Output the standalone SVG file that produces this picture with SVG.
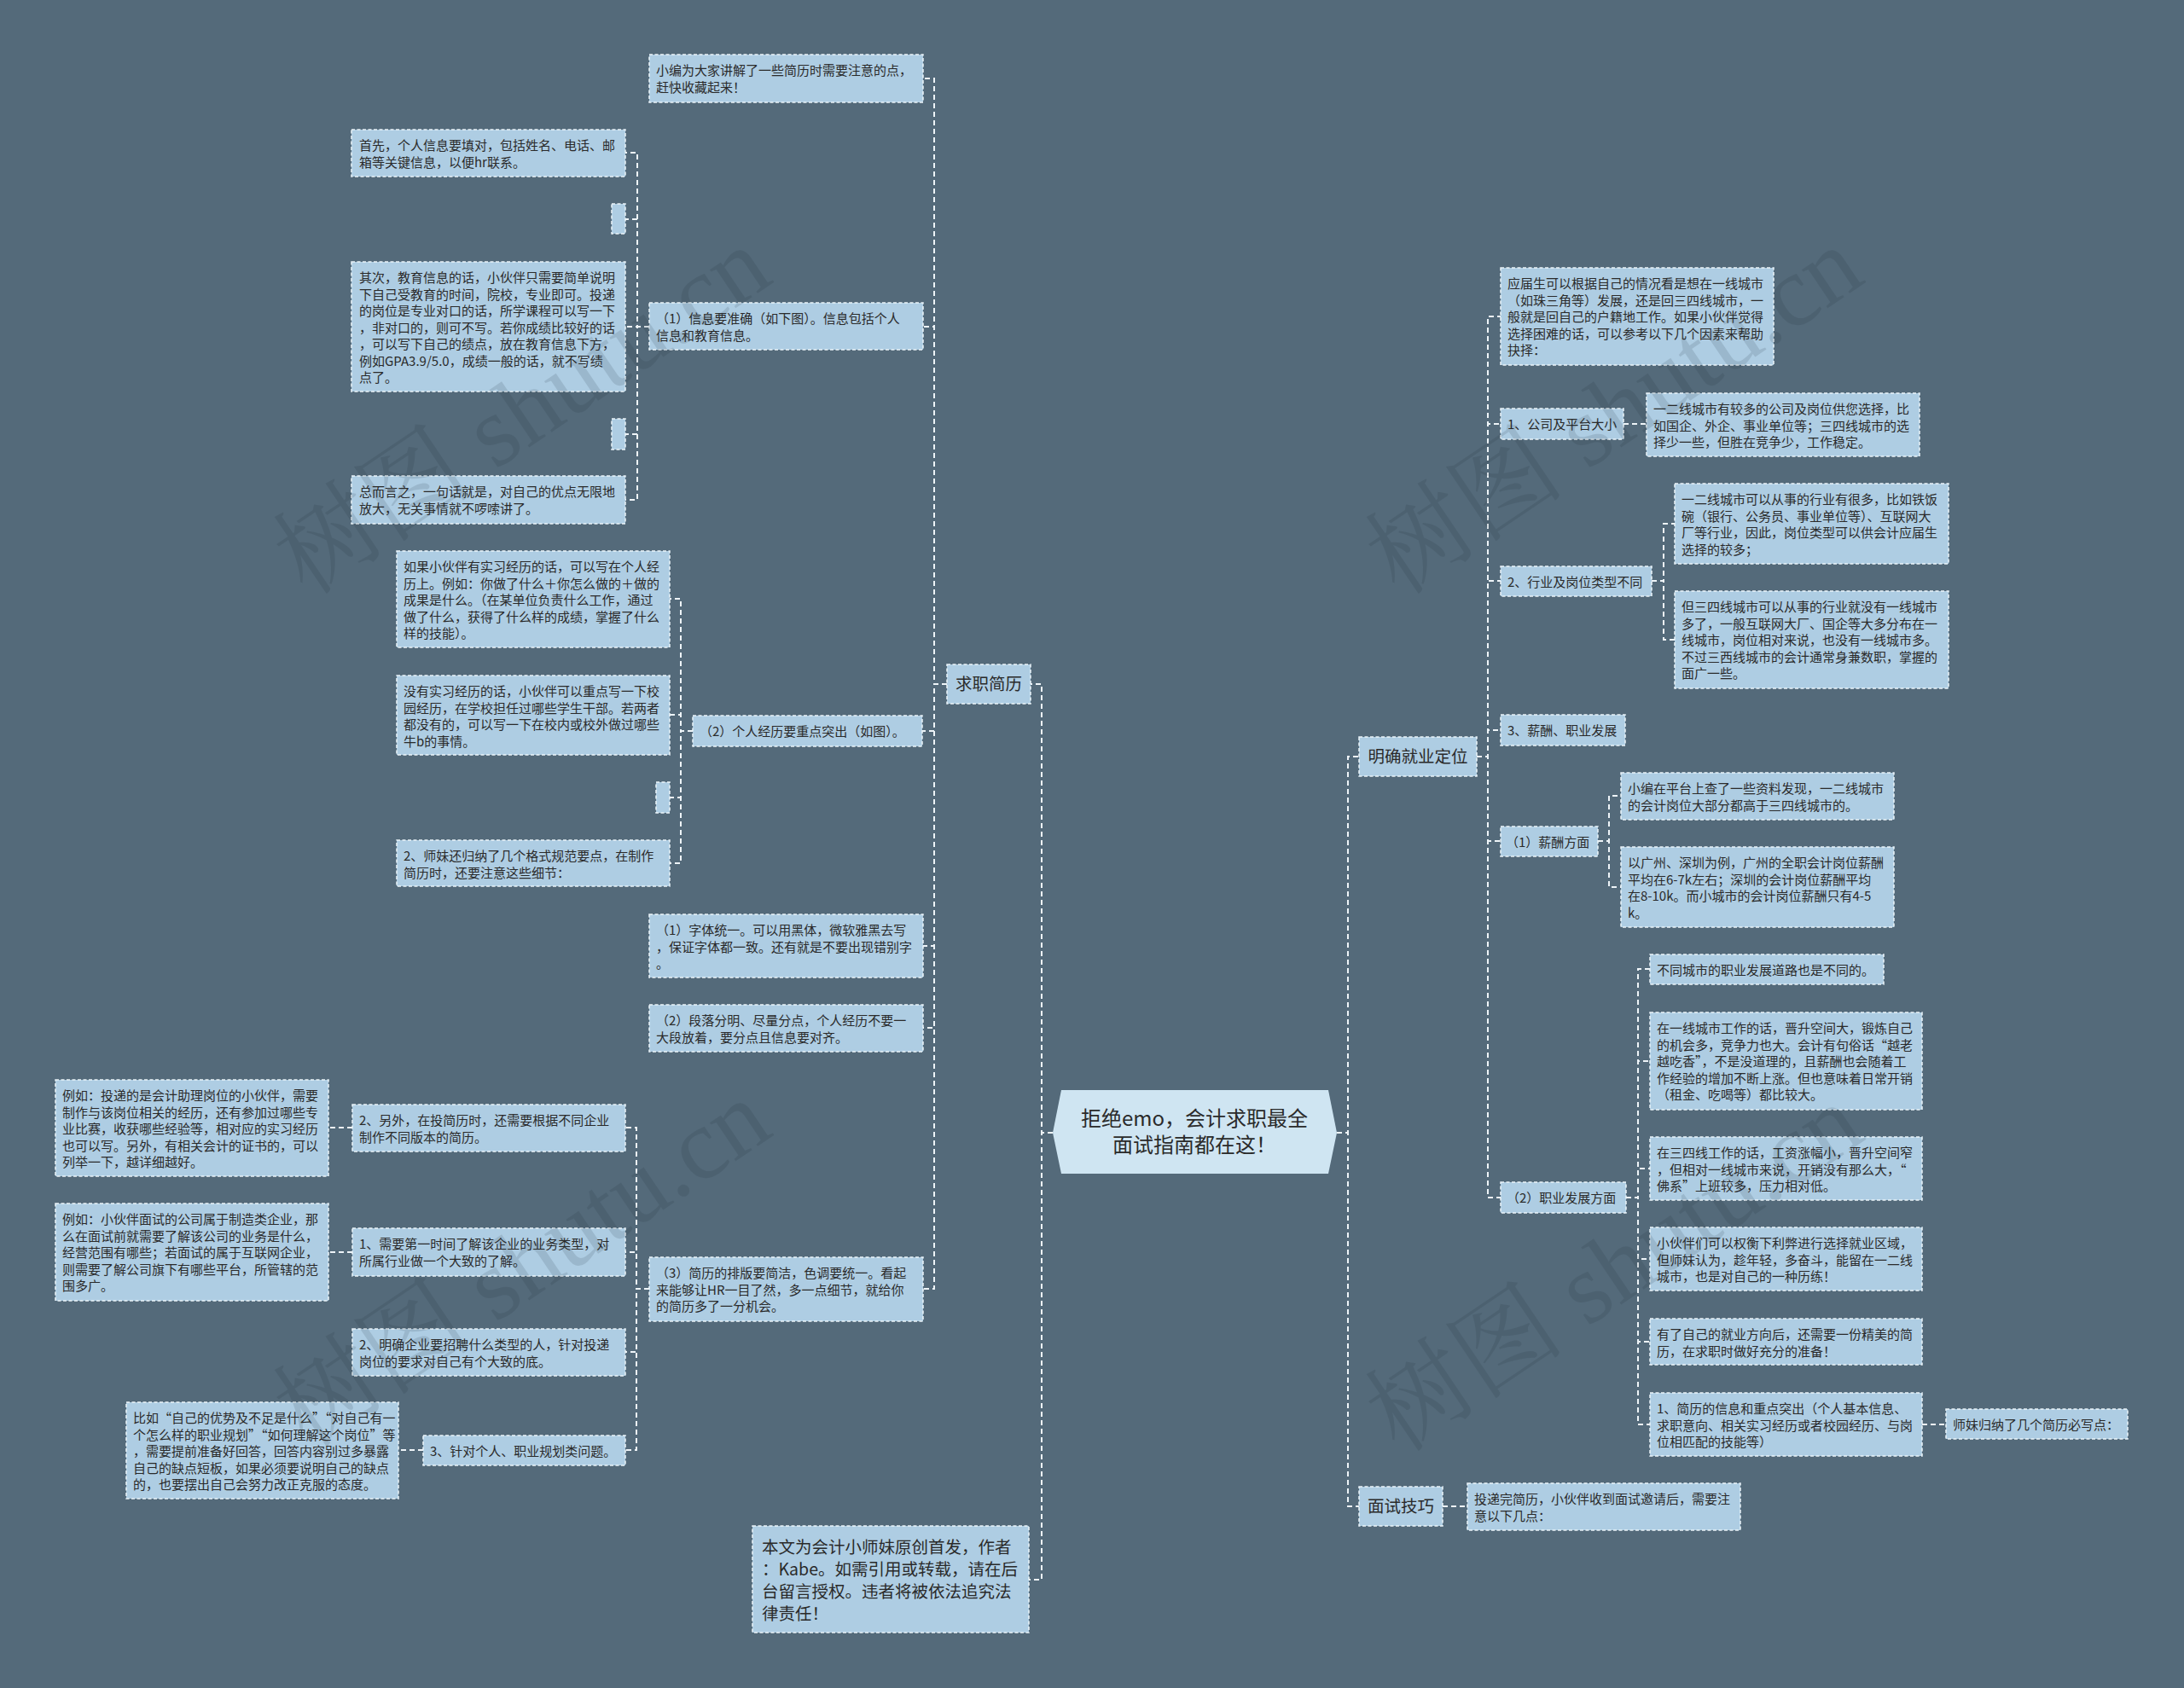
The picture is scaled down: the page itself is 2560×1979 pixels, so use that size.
<svg xmlns="http://www.w3.org/2000/svg" width="2560" height="1979" viewBox="0 0 2560 1979">
<style>
.n{fill:#aecde3;stroke:#eaf3f9;stroke-width:1.5;stroke-dasharray:4 2.5}
.t{font-family:"Noto Sans CJK SC","Liberation Sans",sans-serif;font-size:15px;fill:#2a2a2a}
.b{font-size:19.5px}
.c{fill:none;stroke:#eef4f8;stroke-width:2;stroke-dasharray:6 4}
.wm{font-family:"Liberation Serif","Noto Serif CJK SC","Noto Sans CJK SC",serif;font-size:118px;fill:#1c2a36;opacity:.13}
</style>
<rect width="2560" height="1979" fill="#546a7a"/>
<g id="connectors">
<path class="c" d="M1234,1328H1221V802H1208"/>
<path class="c" d="M1234,1328H1221V1852H1206"/>
<path class="c" d="M1567,1328H1580V887H1593"/>
<path class="c" d="M1567,1328H1580V1766H1593"/>
<path class="c" d="M1110,802H1095V92H1082"/>
<path class="c" d="M1110,802H1095V383H1082"/>
<path class="c" d="M1110,802H1095V857H1081"/>
<path class="c" d="M1110,802H1095V1109H1082"/>
<path class="c" d="M1110,802H1095V1205H1082"/>
<path class="c" d="M1110,802H1095V1511H1082"/>
<path class="c" d="M761,383H747V179H733"/>
<path class="c" d="M761,383H747V257H733"/>
<path class="c" d="M761,383H733"/>
<path class="c" d="M761,383H747V509H733"/>
<path class="c" d="M761,383H747V586H733"/>
<path class="c" d="M812,857H798V702H785"/>
<path class="c" d="M812,857H798V838H785"/>
<path class="c" d="M812,857H798V935H785"/>
<path class="c" d="M812,857H798V1012H785"/>
<path class="c" d="M761,1511H746V1322H733"/>
<path class="c" d="M761,1511H746V1468H733"/>
<path class="c" d="M761,1511H746V1585H733"/>
<path class="c" d="M761,1511H746V1700H733"/>
<path class="c" d="M413,1322H385"/>
<path class="c" d="M413,1468H385"/>
<path class="c" d="M496,1700H467"/>
<path class="c" d="M1731,887H1744V371H1759"/>
<path class="c" d="M1731,887H1744V497H1759"/>
<path class="c" d="M1731,887H1744V681H1759"/>
<path class="c" d="M1731,887H1744V856H1759"/>
<path class="c" d="M1731,887H1744V986H1759"/>
<path class="c" d="M1731,887H1744V1404H1759"/>
<path class="c" d="M1903,497H1930"/>
<path class="c" d="M1936,681H1950V614H1963"/>
<path class="c" d="M1936,681H1950V750H1963"/>
<path class="c" d="M1873,986H1886V933H1900"/>
<path class="c" d="M1873,986H1886V1040H1900"/>
<path class="c" d="M1906,1404H1920V1136H1934"/>
<path class="c" d="M1906,1404H1920V1244H1934"/>
<path class="c" d="M1906,1404H1920V1370H1934"/>
<path class="c" d="M1906,1404H1920V1476H1934"/>
<path class="c" d="M1906,1404H1920V1573H1934"/>
<path class="c" d="M1906,1404H1920V1670H1934"/>
<path class="c" d="M2253,1670H2281"/>
<path class="c" d="M1691,1766H1720"/>
</g>
<g id="center">
<polygon points="1244,1278 1557,1278 1567,1328 1557,1376 1244,1376 1234,1328" fill="#cfe5f2"/>
<text class="t" style="font-size:24px" text-anchor="middle"><tspan x="1400" y="1320">拒绝emo，会计求职最全</tspan><tspan x="1400" y="1351">面试指南都在这！</tspan></text>
</g>
<g id="n-qzjl"><rect class="n" x="1110" y="779" width="98" height="46"/><text class="t b" x="1159" y="809" text-anchor="middle">求职简历</text></g>
<g id="n-xiaobian"><rect class="n" x="761" y="64" width="321" height="56"/><text class="t"><tspan x="769" y="88">小编为大家讲解了一些简历时需要注意的点，</tspan><tspan x="769" y="107.5">赶快收藏起来！</tspan></text></g>
<g id="n-xinxi"><rect class="n" x="761" y="355" width="321" height="55"/><text class="t"><tspan x="769" y="379">（1）信息要准确（如下图）。信息包括个人</tspan><tspan x="769" y="398.5">信息和教育信息。</tspan></text></g>
<g id="n-shouxian"><rect class="n" x="412" y="152" width="321" height="55"/><text class="t"><tspan x="421" y="176">首先，个人信息要填对，包括姓名、电话、邮</tspan><tspan x="421" y="195.5">箱等关键信息，以便hr联系。</tspan></text></g>
<g id="n-empty1"><rect class="n" x="717" y="239" width="16" height="35"/></g>
<g id="n-qici"><rect class="n" x="412" y="307" width="321" height="152"/><text class="t"><tspan x="421" y="331">其次，教育信息的话，小伙伴只需要简单说明</tspan><tspan x="421" y="350.5">下自己受教育的时间，院校，专业即可。投递</tspan><tspan x="421" y="370">的岗位是专业对口的话，所学课程可以写一下</tspan><tspan x="421" y="389.5">，非对口的，则可不写。若你成绩比较好的话</tspan><tspan x="421" y="409">，可以写下自己的绩点，放在教育信息下方，</tspan><tspan x="421" y="428.5">例如GPA3.9/5.0，成绩一般的话，就不写绩</tspan><tspan x="421" y="448">点了。</tspan></text></g>
<g id="n-empty2"><rect class="n" x="717" y="491" width="16" height="36"/></g>
<g id="n-zonger"><rect class="n" x="412" y="558" width="321" height="56"/><text class="t"><tspan x="421" y="582">总而言之，一句话就是，对自己的优点无限地</tspan><tspan x="421" y="601.5">放大，无关事情就不啰嗦讲了。</tspan></text></g>
<g id="n-jingli"><rect class="n" x="812" y="839" width="269" height="36"/><text class="t" x="820" y="863">（2）个人经历要重点突出（如图）。</text></g>
<g id="n-ruguo"><rect class="n" x="465" y="646" width="320" height="113"/><text class="t"><tspan x="473" y="670">如果小伙伴有实习经历的话，可以写在个人经</tspan><tspan x="473" y="689.5">历上。例如：你做了什么＋你怎么做的＋做的</tspan><tspan x="473" y="709">成果是什么。（在某单位负责什么工作，通过</tspan><tspan x="473" y="728.5">做了什么，获得了什么样的成绩，掌握了什么</tspan><tspan x="473" y="748">样的技能）。</tspan></text></g>
<g id="n-meiyou"><rect class="n" x="465" y="792" width="320" height="93"/><text class="t"><tspan x="473" y="816">没有实习经历的话，小伙伴可以重点写一下校</tspan><tspan x="473" y="835.5">园经历，在学校担任过哪些学生干部。若两者</tspan><tspan x="473" y="855">都没有的，可以写一下在校内或校外做过哪些</tspan><tspan x="473" y="874.5">牛b的事情。</tspan></text></g>
<g id="n-empty3"><rect class="n" x="769" y="917" width="16" height="36"/></g>
<g id="n-shimei"><rect class="n" x="465" y="985" width="320" height="54"/><text class="t"><tspan x="473" y="1009">2、师妹还归纳了几个格式规范要点，在制作</tspan><tspan x="473" y="1028.5">简历时，还要注意这些细节：</tspan></text></g>
<g id="n-ziti"><rect class="n" x="761" y="1072" width="321" height="74"/><text class="t"><tspan x="769" y="1096">（1）字体统一。可以用黑体，微软雅黑去写</tspan><tspan x="769" y="1115.5">，保证字体都一致。还有就是不要出现错别字</tspan><tspan x="769" y="1135">。</tspan></text></g>
<g id="n-duanluo"><rect class="n" x="761" y="1178" width="321" height="55"/><text class="t"><tspan x="769" y="1202">（2）段落分明、尽量分点，个人经历不要一</tspan><tspan x="769" y="1221.5">大段放着，要分点且信息要对齐。</tspan></text></g>
<g id="n-paiban"><rect class="n" x="761" y="1474" width="321" height="75"/><text class="t"><tspan x="769" y="1498">（3）简历的排版要简洁，色调要统一。看起</tspan><tspan x="769" y="1517.5">来能够让HR一目了然，多一点细节，就给你</tspan><tspan x="769" y="1537">的简历多了一分机会。</tspan></text></g>
<g id="n-lingwai"><rect class="n" x="413" y="1295" width="320" height="55"/><text class="t"><tspan x="421" y="1319">2、另外，在投简历时，还需要根据不同企业</tspan><tspan x="421" y="1338.5">制作不同版本的简历。</tspan></text></g>
<g id="n-liru1"><rect class="n" x="65" y="1266" width="320" height="113"/><text class="t"><tspan x="73" y="1290">例如：投递的是会计助理岗位的小伙伴，需要</tspan><tspan x="73" y="1309.5">制作与该岗位相关的经历，还有参加过哪些专</tspan><tspan x="73" y="1329">业比赛，收获哪些经验等，相对应的实习经历</tspan><tspan x="73" y="1348.5">也可以写。另外，有相关会计的证书的，可以</tspan><tspan x="73" y="1368">列举一下，越详细越好。</tspan></text></g>
<g id="n-xuyao"><rect class="n" x="413" y="1440" width="320" height="56"/><text class="t"><tspan x="421" y="1464">1、需要第一时间了解该企业的业务类型，对</tspan><tspan x="421" y="1483.5">所属行业做一个大致的了解。</tspan></text></g>
<g id="n-liru2"><rect class="n" x="65" y="1411" width="320" height="114"/><text class="t"><tspan x="73" y="1435">例如：小伙伴面试的公司属于制造类企业，那</tspan><tspan x="73" y="1454.5">么在面试前就需要了解该公司的业务是什么，</tspan><tspan x="73" y="1474">经营范围有哪些；若面试的属于互联网企业，</tspan><tspan x="73" y="1493.5">则需要了解公司旗下有哪些平台，所管辖的范</tspan><tspan x="73" y="1513">围多广。</tspan></text></g>
<g id="n-mingque"><rect class="n" x="413" y="1558" width="320" height="55"/><text class="t"><tspan x="421" y="1582">2、明确企业要招聘什么类型的人，针对投递</tspan><tspan x="421" y="1601.5">岗位的要求对自己有个大致的底。</tspan></text></g>
<g id="n-zhendui"><rect class="n" x="496" y="1683" width="237" height="35"/><text class="t" x="504" y="1707">3、针对个人、职业规划类问题。</text></g>
<g id="n-biru"><rect class="n" x="148" y="1644" width="319" height="113"/><text class="t"><tspan x="156" y="1668">比如“自己的优势及不足是什么”“对自己有一</tspan><tspan x="156" y="1687.5">个怎么样的职业规划”“如何理解这个岗位”等</tspan><tspan x="156" y="1707">，需要提前准备好回答，回答内容别过多暴露</tspan><tspan x="156" y="1726.5">自己的缺点短板，如果必须要说明自己的缺点</tspan><tspan x="156" y="1746">的，也要摆出自己会努力改正克服的态度。</tspan></text></g>
<g id="n-benwen"><rect class="n" x="882" y="1789" width="324" height="125"/><text class="t b"><tspan x="893" y="1821">本文为会计小师妹原创首发，作者</tspan><tspan x="893" y="1847">：Kabe。如需引用或转载，请在后</tspan><tspan x="893" y="1873">台留言授权。违者将被依法追究法</tspan><tspan x="893" y="1899">律责任！</tspan></text></g>
<g id="n-mqjydw"><rect class="n" x="1593" y="864" width="138" height="46"/><text class="t b" x="1662" y="894" text-anchor="middle">明确就业定位</text></g>
<g id="n-yingjie"><rect class="n" x="1759" y="314" width="320" height="114"/><text class="t"><tspan x="1767" y="338">应届生可以根据自己的情况看是想在一线城市</tspan><tspan x="1767" y="357.5">（如珠三角等）发展，还是回三四线城市，一</tspan><tspan x="1767" y="377">般就是回自己的户籍地工作。如果小伙伴觉得</tspan><tspan x="1767" y="396.5">选择困难的话，可以参考以下几个因素来帮助</tspan><tspan x="1767" y="416">抉择：</tspan></text></g>
<g id="n-gongsi"><rect class="n" x="1759" y="479" width="144" height="36"/><text class="t" x="1767" y="503">1、公司及平台大小</text></g>
<g id="n-jiaoduo"><rect class="n" x="1930" y="461" width="320" height="74"/><text class="t"><tspan x="1938" y="485">一二线城市有较多的公司及岗位供您选择，比</tspan><tspan x="1938" y="504.5">如国企、外企、事业单位等；三四线城市的选</tspan><tspan x="1938" y="524">择少一些，但胜在竞争少，工作稳定。</tspan></text></g>
<g id="n-hangye"><rect class="n" x="1759" y="664" width="177" height="35"/><text class="t" x="1767" y="688">2、行业及岗位类型不同</text></g>
<g id="n-congshi"><rect class="n" x="1963" y="567" width="321" height="94"/><text class="t"><tspan x="1971" y="591">一二线城市可以从事的行业有很多，比如铁饭</tspan><tspan x="1971" y="610.5">碗（银行、公务员、事业单位等）、互联网大</tspan><tspan x="1971" y="630">厂等行业，因此，岗位类型可以供会计应届生</tspan><tspan x="1971" y="649.5">选择的较多；</tspan></text></g>
<g id="n-sansi"><rect class="n" x="1963" y="693" width="321" height="114"/><text class="t"><tspan x="1971" y="717">但三四线城市可以从事的行业就没有一线城市</tspan><tspan x="1971" y="736.5">多了，一般互联网大厂、国企等大多分布在一</tspan><tspan x="1971" y="756">线城市，岗位相对来说，也没有一线城市多。</tspan><tspan x="1971" y="775.5">不过三西线城市的会计通常身兼数职，掌握的</tspan><tspan x="1971" y="795">面广一些。</tspan></text></g>
<g id="n-xinchou"><rect class="n" x="1759" y="838" width="146" height="36"/><text class="t" x="1767" y="862">3、薪酬、职业发展</text></g>
<g id="n-xcfm"><rect class="n" x="1759" y="969" width="114" height="35"/><text class="t" x="1765" y="993">（1）薪酬方面</text></g>
<g id="n-zhaliao"><rect class="n" x="1900" y="906" width="320" height="55"/><text class="t"><tspan x="1908" y="930">小编在平台上查了一些资料发现，一二线城市</tspan><tspan x="1908" y="949.5">的会计岗位大部分都高于三四线城市的。</tspan></text></g>
<g id="n-guangzhou"><rect class="n" x="1900" y="993" width="320" height="94"/><text class="t"><tspan x="1908" y="1017">以广州、深圳为例，广州的全职会计岗位薪酬</tspan><tspan x="1908" y="1036.5">平均在6-7k左右；深圳的会计岗位薪酬平均</tspan><tspan x="1908" y="1056">在8-10k。而小城市的会计岗位薪酬只有4-5</tspan><tspan x="1908" y="1075.5">k。</tspan></text></g>
<g id="n-zyfz"><rect class="n" x="1759" y="1386" width="147" height="36"/><text class="t" x="1766" y="1410">（2）职业发展方面</text></g>
<g id="n-butong"><rect class="n" x="1934" y="1119" width="274" height="35"/><text class="t" x="1942" y="1143">不同城市的职业发展道路也是不同的。</text></g>
<g id="n-yixian"><rect class="n" x="1934" y="1187" width="319" height="114"/><text class="t"><tspan x="1942" y="1211">在一线城市工作的话，晋升空间大，锻炼自己</tspan><tspan x="1942" y="1230.5">的机会多，竞争力也大。会计有句俗话“越老</tspan><tspan x="1942" y="1250">越吃香”，不是没道理的，且薪酬也会随着工</tspan><tspan x="1942" y="1269.5">作经验的增加不断上涨。但也意味着日常开销</tspan><tspan x="1942" y="1289">（租金、吃喝等）都比较大。</tspan></text></g>
<g id="n-sansixian"><rect class="n" x="1934" y="1333" width="319" height="74"/><text class="t"><tspan x="1942" y="1357">在三四线工作的话，工资涨幅小，晋升空间窄</tspan><tspan x="1942" y="1376.5">，但相对一线城市来说，开销没有那么大，“</tspan><tspan x="1942" y="1396">佛系”上班较多，压力相对低。</tspan></text></g>
<g id="n-quanheng"><rect class="n" x="1934" y="1439" width="319" height="74"/><text class="t"><tspan x="1942" y="1463">小伙伴们可以权衡下利弊进行选择就业区域，</tspan><tspan x="1942" y="1482.5">但师妹认为，趁年轻，多奋斗，能留在一二线</tspan><tspan x="1942" y="1502">城市，也是对自己的一种历练！</tspan></text></g>
<g id="n-youle"><rect class="n" x="1934" y="1546" width="319" height="54"/><text class="t"><tspan x="1942" y="1570">有了自己的就业方向后，还需要一份精美的简</tspan><tspan x="1942" y="1589.5">历，在求职时做好充分的准备！</tspan></text></g>
<g id="n-jianli"><rect class="n" x="1934" y="1633" width="319" height="74"/><text class="t"><tspan x="1942" y="1657">1、简历的信息和重点突出（个人基本信息、</tspan><tspan x="1942" y="1676.5">求职意向、相关实习经历或者校园经历、与岗</tspan><tspan x="1942" y="1696">位相匹配的技能等）</tspan></text></g>
<g id="n-bixie"><rect class="n" x="2281" y="1652" width="213" height="35"/><text class="t" x="2289" y="1676">师妹归纳了几个简历必写点：</text></g>
<g id="n-mianshi"><rect class="n" x="1593" y="1743" width="98" height="46"/><text class="t b" x="1642" y="1773" text-anchor="middle">面试技巧</text></g>
<g id="n-toudi"><rect class="n" x="1720" y="1739" width="320" height="55"/><text class="t"><tspan x="1728" y="1763">投递完简历，小伙伴收到面试邀请后，需要注</tspan><tspan x="1728" y="1782.5">意以下几点：</tspan></text></g>
<g id="watermarks">
<text class="wm" transform="translate(360,700) rotate(-34)">树图 shutu.cn</text>
<text class="wm" transform="translate(360,1700) rotate(-34)">树图 shutu.cn</text>
<text class="wm" transform="translate(1640,700) rotate(-34)">树图 shutu.cn</text>
<text class="wm" transform="translate(1640,1705) rotate(-34)">树图 shutu.cn</text>
</g>
</svg>
